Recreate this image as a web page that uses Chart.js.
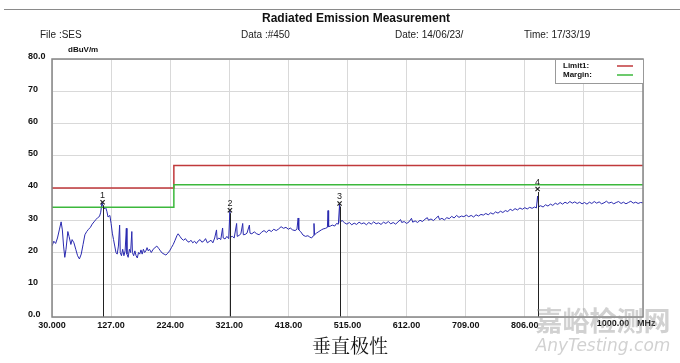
<!DOCTYPE html>
<html><head><meta charset="utf-8">
<script src="https://cdn.jsdelivr.net/npm/chart.js@4.4.1/dist/chart.umd.min.js"></script>
<style>html,body{margin:0;padding:0;background:#fff;}#wrap{width:680px;height:363px;position:relative;}</style>
</head><body><div id="wrap"><canvas id="c"></canvas></div>
<script>
const chartTitle = 'Radiated Emission Measurement';
const headerItems = ['File :SES', 'Data :#450', 'Date: 14/06/23/', 'Time: 17/33/19'];
const yUnit = 'dBuV/m';
const xUnit = 'MHz';
const caption = '垂直极性';
const watermark = ['嘉峪检测网', 'AnyTesting.com'];

const xTickValues = [30, 127, 224, 321, 418, 515, 612, 709, 806, 903, 1000];
const xTickLabels = ['30.000', '127.00', '224.00', '321.00', '418.00', '515.00', '612.00', '709.00', '806.00', '', '1000.00'];
const yTickValues = [0, 10, 20, 30, 40, 50, 60, 70, 80];
const yTickLabels = ['0.0', '10', '20', '30', '40', '50', '60', '70', '80.0'];

const seriesNames = ['Limit1:', 'Margin:'];
const limitFreq = [30, 230, 230, 1000];
const limitLevel = [40, 40, 47, 47];
const marginFreq = [30, 230, 230, 1000];
const marginLevel = [34, 34, 41, 41];

const markerFreq = [113, 322, 502, 827];
const markerLevel = [35.6, 33.1, 35.2, 39.7];
const markerLabels = ['1', '2', '3', '4'];

// measured emission trace [MHz, dBuV/m]
const emission = [
[30,22.0],[33,23.5],[36,22.8],[39,24.5],[42,27],[45,29.5],[47,27],[49,22],[51,18.5],[53,21],[56,26.5],[58,25],[61,22.5],[63,24],[66,23],[69,21],[72,19],[75,18],[78,19.5],[81,22.5],[84,25.5],[87,26.5],[90,27.2],[93,27.8],[96,28.8],[99,29.5],[102,30.2],[105,30.8],[108,31.2],[110,32.5],[112,35.5],[114,34.2],[116,33.5],[118,34],[120,32.8],[122,31],[125,31.5],[127,29],[129,26],[131,24],[133,22],[135,20],[137,19.5],[139,22],[141,28.5],[142,20],[144,19],[146,21],[148,19],[150,20.5],[152,27.5],[153,19.5],[155,18.5],[157,21],[159,20],[161,26.5],[162,20],[164,19],[166,20.5],[168,19],[170,18.3],[172,20],[174,19.5],[176,20.8],[178,19.5],[180,21],[182,20],[184,20.5],[186,21.5],[188,20.5],[190,21],[193,20],[196,21],[199,21.5],[202,22],[205,21.3],[208,20.5],[211,19.8],[214,19.5],[217,19.2],[220,19.8],[223,20.5],[226,21.5],[229,22.5],[232,23.8],[235,25.2],[237,25.8],[240,25],[243,24.2],[246,23.8],[249,24.3],[252,23.5],[255,23.2],[258,23.8],[261,23],[264,23.5],[267,22.8],[270,23.6],[273,24],[276,23.2],[279,23.5],[282,24.3],[285,23],[288,23.4],[291,23.8],[294,23],[297,24.5],[300,27],[301,24],[304,24.5],[307,24],[310,27.6],[311,24.5],[314,24.2],[317,25],[320,24.3],[322,33],[323,24.8],[326,25],[329,24.5],[333,29],[334,25],[337,25.3],[340,25.8],[343,29],[344,25.5],[347,25.6],[350,26],[354,28.5],[355,26],[358,25.8],[362,26.4],[366,25.8],[370,25.5],[374,26.3],[378,26.8],[382,26.2],[386,27],[390,26.5],[394,27.2],[398,26.8],[402,27.3],[406,28],[410,27.5],[414,27.8],[418,27.2],[421,27.6],[425,27],[429,26.8],[432,27.2],[434,30.7],[435,27],[438,26.5],[442,25.4],[446,25],[450,25.2],[453,24.8],[456,24.5],[459,25.2],[460,29],[461,25.5],[464,26],[468,26.5],[472,27],[475,27.3],[479,27.5],[482,27.8],[483,33],[484,28],[487,28.2],[490,28.5],[494,28.2],[497,29],[500,28.8],[502,35],[503,29.3],[506,30],[510,29.2],[514,28.8],[518,29.3],[522,28.6],[526,29.1],[530,28.7],[534,29.4],[538,28.9],[542,29.2],[546,28.6],[550,29.3],[554,28.8],[558,29.5],[562,28.9],[566,29.2],[570,28.7],[574,29.4],[578,29],[582,29.6],[586,28.9],[590,29.3],[594,28.8],[598,29.5],[602,30.2],[604,29.3],[608,29.6],[612,29],[616,29.5],[620,30.6],[622,29.4],[626,29.8],[630,29.3],[634,30],[638,29.6],[642,30.3],[646,30.8],[648,30],[652,30.4],[656,29.9],[660,30.6],[664,31.3],[666,30.2],[670,30.6],[674,30.1],[678,30.8],[682,30.5],[686,31.2],[690,30.7],[694,31.5],[698,30.9],[702,31.3],[706,31.1],[710,31.6],[714,31.1],[718,31.5],[722,31],[726,31.7],[730,31.3],[734,31.8],[738,31.6],[742,32.1],[746,31.7],[750,32.3],[754,31.9],[758,32.6],[762,32.2],[766,32.8],[770,32.4],[774,33],[778,32.7],[782,33.4],[786,33],[790,33.6],[794,33.2],[798,33.8],[802,33.4],[806,33.9],[810,33.5],[814,34],[818,33.7],[822,34.1],[825,33.8],[827,37.5],[829,34.2],[832,34.5],[836,34.1],[840,34.8],[844,34.4],[848,35],[852,34.6],[856,35.3],[860,34.9],[864,35.5],[868,35],[872,35.6],[876,35.2],[880,35.8],[884,35.3],[888,35.7],[892,35.2],[896,35.6],[900,35.1],[904,35.5],[908,35],[912,35.6],[916,35.2],[920,35.8],[924,35.3],[928,35.7],[932,35.1],[936,35.4],[940,35.9],[944,35.3],[948,35.6],[952,35.1],[956,35.5],[960,35.8],[964,35.2],[968,35.6],[972,35.1],[976,35.5],[980,35.9],[984,35.3],[988,35.6],[992,35.2],[996,35.5],[1000,35.4]
];

const COL_TRACE = '#2a2ab0';
const COL_LIMIT = '#c0393b';
const COL_MARGIN = '#3cb83c';
const TICK_FONT = {family: '"Liberation Sans Narrow", "Arial Narrow", "Liberation Sans", Arial, sans-serif', size: 9, weight: 'bold'};

const decor = {
  id: 'decor',
  beforeDraw(chart) {
    const ctx = chart.ctx;
    ctx.save();
    ctx.fillStyle = '#fff';
    ctx.fillRect(0, 0, chart.width, chart.height);
    ctx.restore();
  },
  afterDatasetsDraw(chart) {
    const {ctx, chartArea: a} = chart;
    const meta = chart.getDatasetMeta(3);
    ctx.save();
    ctx.strokeStyle = '#222';
    ctx.lineWidth = 1;
    ctx.fillStyle = '#222';
    ctx.font = '9px "Liberation Sans", Arial, sans-serif';
    ctx.textAlign = 'center';
    ctx.textBaseline = 'bottom';
    meta.data.forEach((pt, i) => {
      const px = Math.round(pt.x) + 0.5;
      ctx.beginPath();
      ctx.moveTo(px, pt.y + 3);
      ctx.lineTo(px, a.bottom);
      ctx.stroke();
      ctx.fillText(markerLabels[i], pt.x, pt.y - 2);
    });
    ctx.restore();
  },
  afterDraw(chart) {
    const {ctx, chartArea: a, scales: {x}} = chart;
    ctx.save();
    // frame
    ctx.strokeStyle = '#858585';
    ctx.lineWidth = 1.5;
    ctx.strokeRect(a.left, a.top, a.right - a.left, a.bottom - a.top);
    // top rule
    ctx.strokeStyle = '#8a8a8a';
    ctx.lineWidth = 1;
    ctx.beginPath(); ctx.moveTo(4, 9.5); ctx.lineTo(680, 9.5); ctx.stroke();
    // header
    ctx.fillStyle = '#111';
    ctx.textBaseline = 'middle';
    ctx.textAlign = 'center';
    ctx.font = 'bold 12px "Liberation Sans", Arial, sans-serif';
    ctx.fillText(chartTitle, 356, 19);
    ctx.textAlign = 'left';
    ctx.font = '10px "Liberation Sans", Arial, sans-serif';
    ctx.fillStyle = '#222';
    const hx = [40, 241, 395, 524];
    headerItems.forEach((t, i) => ctx.fillText(t, hx[i], 35));
    // unit labels
    ctx.font = 'bold 8px "Liberation Sans Narrow", "Liberation Sans", Arial, sans-serif';
    ctx.fillStyle = '#111';
    ctx.fillText(yUnit, 68, 50);
    ctx.font = 'bold 9px "Liberation Sans Narrow", "Arial Narrow", "Liberation Sans", Arial, sans-serif';
    ctx.textAlign = 'center';
    const last = xTickValues.length - 1;
    const lx = x.getPixelForValue(xTickValues[last]) - 30;
    ctx.fillText(xTickLabels[last], lx, 324);
    ctx.textAlign = 'left';
    ctx.fillText(xUnit, lx + 24, 324);
    // legend box
    const bx = 555, by = a.top, bw = a.right - bx, bh = 24;
    ctx.fillStyle = '#fff';
    ctx.fillRect(bx, by, bw, bh);
    ctx.strokeStyle = '#999';
    ctx.lineWidth = 1;
    ctx.strokeRect(bx + 0.5, by + 0.5, bw, bh);
    ctx.fillStyle = '#111';
    ctx.font = 'bold 8px "Liberation Sans", Arial, sans-serif';
    const cols = [COL_LIMIT, COL_MARGIN];
    seriesNames.forEach((n, i) => {
      const yy = by + 7 + i * 9;
      ctx.fillText(n, bx + 8, yy);
      ctx.strokeStyle = cols[i];
      ctx.lineWidth = 1.5;
      ctx.beginPath(); ctx.moveTo(bx + 62, yy); ctx.lineTo(bx + 78, yy); ctx.stroke();
    });
    // caption
    ctx.fillStyle = '#111';
    ctx.textAlign = 'center';
    ctx.font = '19px "Noto Serif CJK SC", "Noto Sans CJK SC", serif';
    ctx.fillText(caption, 350, 346);
    // watermark
    ctx.globalAlpha = 0.45;
    ctx.fillStyle = '#9a9a9a';
    ctx.font = 'bold 27px "Noto Sans CJK SC", sans-serif';
    ctx.fillText(watermark[0], 603, 321);
    ctx.font = 'italic 17px "DejaVu Sans", sans-serif';
    ctx.fillText(watermark[1], 603, 347);
    ctx.restore();
  }
};

new Chart(document.getElementById('c'), {
  type: 'line',
  data: {
    datasets: [
      {label: 'Trace', data: emission.map(p => ({x: p[0], y: p[1]})), borderColor: COL_TRACE, borderWidth: 1, pointRadius: 0, tension: 0, order: 3},
      {label: seriesNames[0], data: limitFreq.map((f, i) => ({x: f, y: limitLevel[i]})), borderColor: COL_LIMIT, borderWidth: 1.5, pointRadius: 0, order: 2},
      {label: seriesNames[1], data: marginFreq.map((f, i) => ({x: f, y: marginLevel[i]})), borderColor: COL_MARGIN, borderWidth: 1.5, pointRadius: 0, order: 1},
      {label: 'Markers', data: markerFreq.map((f, i) => ({x: f, y: markerLevel[i]})), showLine: false, pointStyle: 'crossRot', pointRadius: 3, borderColor: '#222', borderWidth: 1.2, order: 0}
    ]
  },
  options: {
    responsive: true,
    maintainAspectRatio: false,
    animation: false,
    layout: {padding: {left: 28, right: 37, top: 59, bottom: 0}},
    plugins: {legend: {display: false}, tooltip: {enabled: false}},
    scales: {
      x: {
        type: 'linear', min: 30, max: 1000,
        afterBuildTicks: s => { s.ticks = xTickValues.map(v => ({value: v})); },
        afterFit: s => { s.height = 46; },
        grid: {color: '#d9d9d9', lineWidth: 1, drawTicks: false},
        border: {display: false},
        ticks: {
          autoSkip: false, maxRotation: 0, padding: 3, color: '#111', font: TICK_FONT,
          callback: (v, i) => (i === xTickValues.length - 1 ? '' : xTickLabels[i])
        }
      },
      y: {
        min: 0, max: 80,
        afterBuildTicks: s => { s.ticks = yTickValues.map(v => ({value: v})); },
        afterFit: s => { s.width = 24; },
        grid: {color: '#d9d9d9', lineWidth: 1, drawTicks: false},
        border: {display: false},
        ticks: {
          crossAlign: 'far', padding: 0, labelOffset: -2, color: '#111', font: TICK_FONT,
          callback: (v, i) => yTickLabels[i]
        }
      }
    }
  },
  plugins: [decor]
});
</script></body></html>
